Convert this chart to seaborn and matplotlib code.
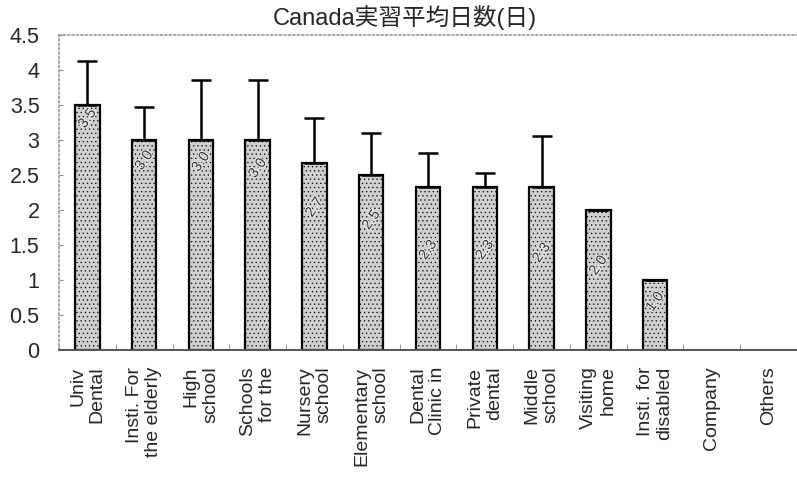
import numpy as np
import pandas as pd
import matplotlib
matplotlib.use("Agg")
import matplotlib.pyplot as plt
import matplotlib.patheffects as pe
from matplotlib.ticker import FuncFormatter, FixedLocator
import seaborn as sns

# data
categories = ["Univ\nDental", "Insti. For\nthe elderly", "High\nschool",
              "Schools\nfor the", "Nursery\nschool", "Elementary\nschool",
              "Dental\nClinic in", "Private\ndental", "Middle\nschool",
              "Visiting\nhome", "Insti. for\ndisabled", "Company", "Others"]
mean_days = [3.5, 3.0, 3.0, 3.0, 2.67, 2.5, 2.33, 2.33, 2.33, 2.0, 1.0, 0, 0]
sd_upper = [0.63, 0.47, 0.86, 0.86, 0.64, 0.6, 0.48, 0.2, 0.73, 0, 0, 0, 0]
value_labels = ["3.5", "3.0", "3.0", "3.0", "2.7", "2.5", "2.3", "2.3", "2.3",
                "2.0", "1.0", "", ""]
title = "Canada実習平均日数(日)"

# where the value labels sit inside the bars (y, data units)
label_y = [3.31, 2.71, 2.69, 2.60, 2.04, 1.86, 1.43, 1.43, 1.39, 1.21, 0.69, 0, 0]

sns.set_style("white")
plt.rcParams['font.family'] = ['Liberation Sans', 'Noto Sans CJK JP', 'DejaVu Sans']
plt.rcParams['hatch.linewidth'] = 0.4

df = pd.DataFrame({"place": categories, "days": mean_days})

fig = plt.figure(figsize=(7.97, 4.82), dpi=100)
ax = fig.add_axes([0.074, 0.274, 0.926, 0.653])

sns.barplot(data=df, x="place", y="days", order=categories, color="#d0d0d0",
            edgecolor="black", linewidth=1.6, width=0.43, errorbar=None,
            saturation=1, ax=ax)

# stipple texture like the scanned original; hide the empty bars
for p, v in zip(ax.patches, mean_days):
    p.set_hatch("....")
    if v == 0:
        p.set_visible(False)

x = np.arange(len(categories))
has_err = np.array(mean_days) > 0
ax.errorbar(x[has_err], np.array(mean_days)[has_err],
            yerr=[np.zeros(has_err.sum()), np.array(sd_upper)[has_err]],
            fmt="none", ecolor="black", elinewidth=1.8, capsize=7, capthick=1.8)

for i, lab in enumerate(value_labels):
    if lab:
        ax.text(i, label_y[i], lab, rotation=55, ha="center", va="center",
                fontsize=10.5, color="#333333",
                path_effects=[pe.withStroke(linewidth=1.5, foreground="#eeeeee")])

ax.set_xlim(-0.5, len(categories) - 0.5)
ax.set_ylim(0, 4.5)
ax.set_yticks(np.arange(0, 4.51, 0.5))
ax.yaxis.set_major_formatter(FuncFormatter(lambda v, _: f"{v:g}"))
ax.tick_params(axis="y", direction="in", length=3, color="#888888",
               labelsize=15.5, pad=14, left=True)
ax.set_xticks(x)
ax.set_xticklabels(categories, rotation=90, fontsize=14, va="top",
                   ha="center", multialignment="right")
ax.tick_params(axis="x", length=0, pad=12)
ax.xaxis.set_minor_locator(FixedLocator(np.arange(-0.5, len(categories), 1)))
ax.tick_params(axis="x", which="minor", direction="in", length=4,
               color="#888888", bottom=True)
ax.set_xlabel("")
ax.set_ylabel("")

for side in ["left", "top"]:
    ax.spines[side].set_color("#999999")
    ax.spines[side].set_linestyle(":")
    ax.spines[side].set_linewidth(1.2)
ax.spines["bottom"].set_color("#555555")
ax.spines["bottom"].set_linewidth(1.4)
ax.spines["right"].set_visible(False)

fig.text(0.508, 0.963, title, ha="center", va="center", fontsize=17)

fig.savefig("out.png", dpi=100)
